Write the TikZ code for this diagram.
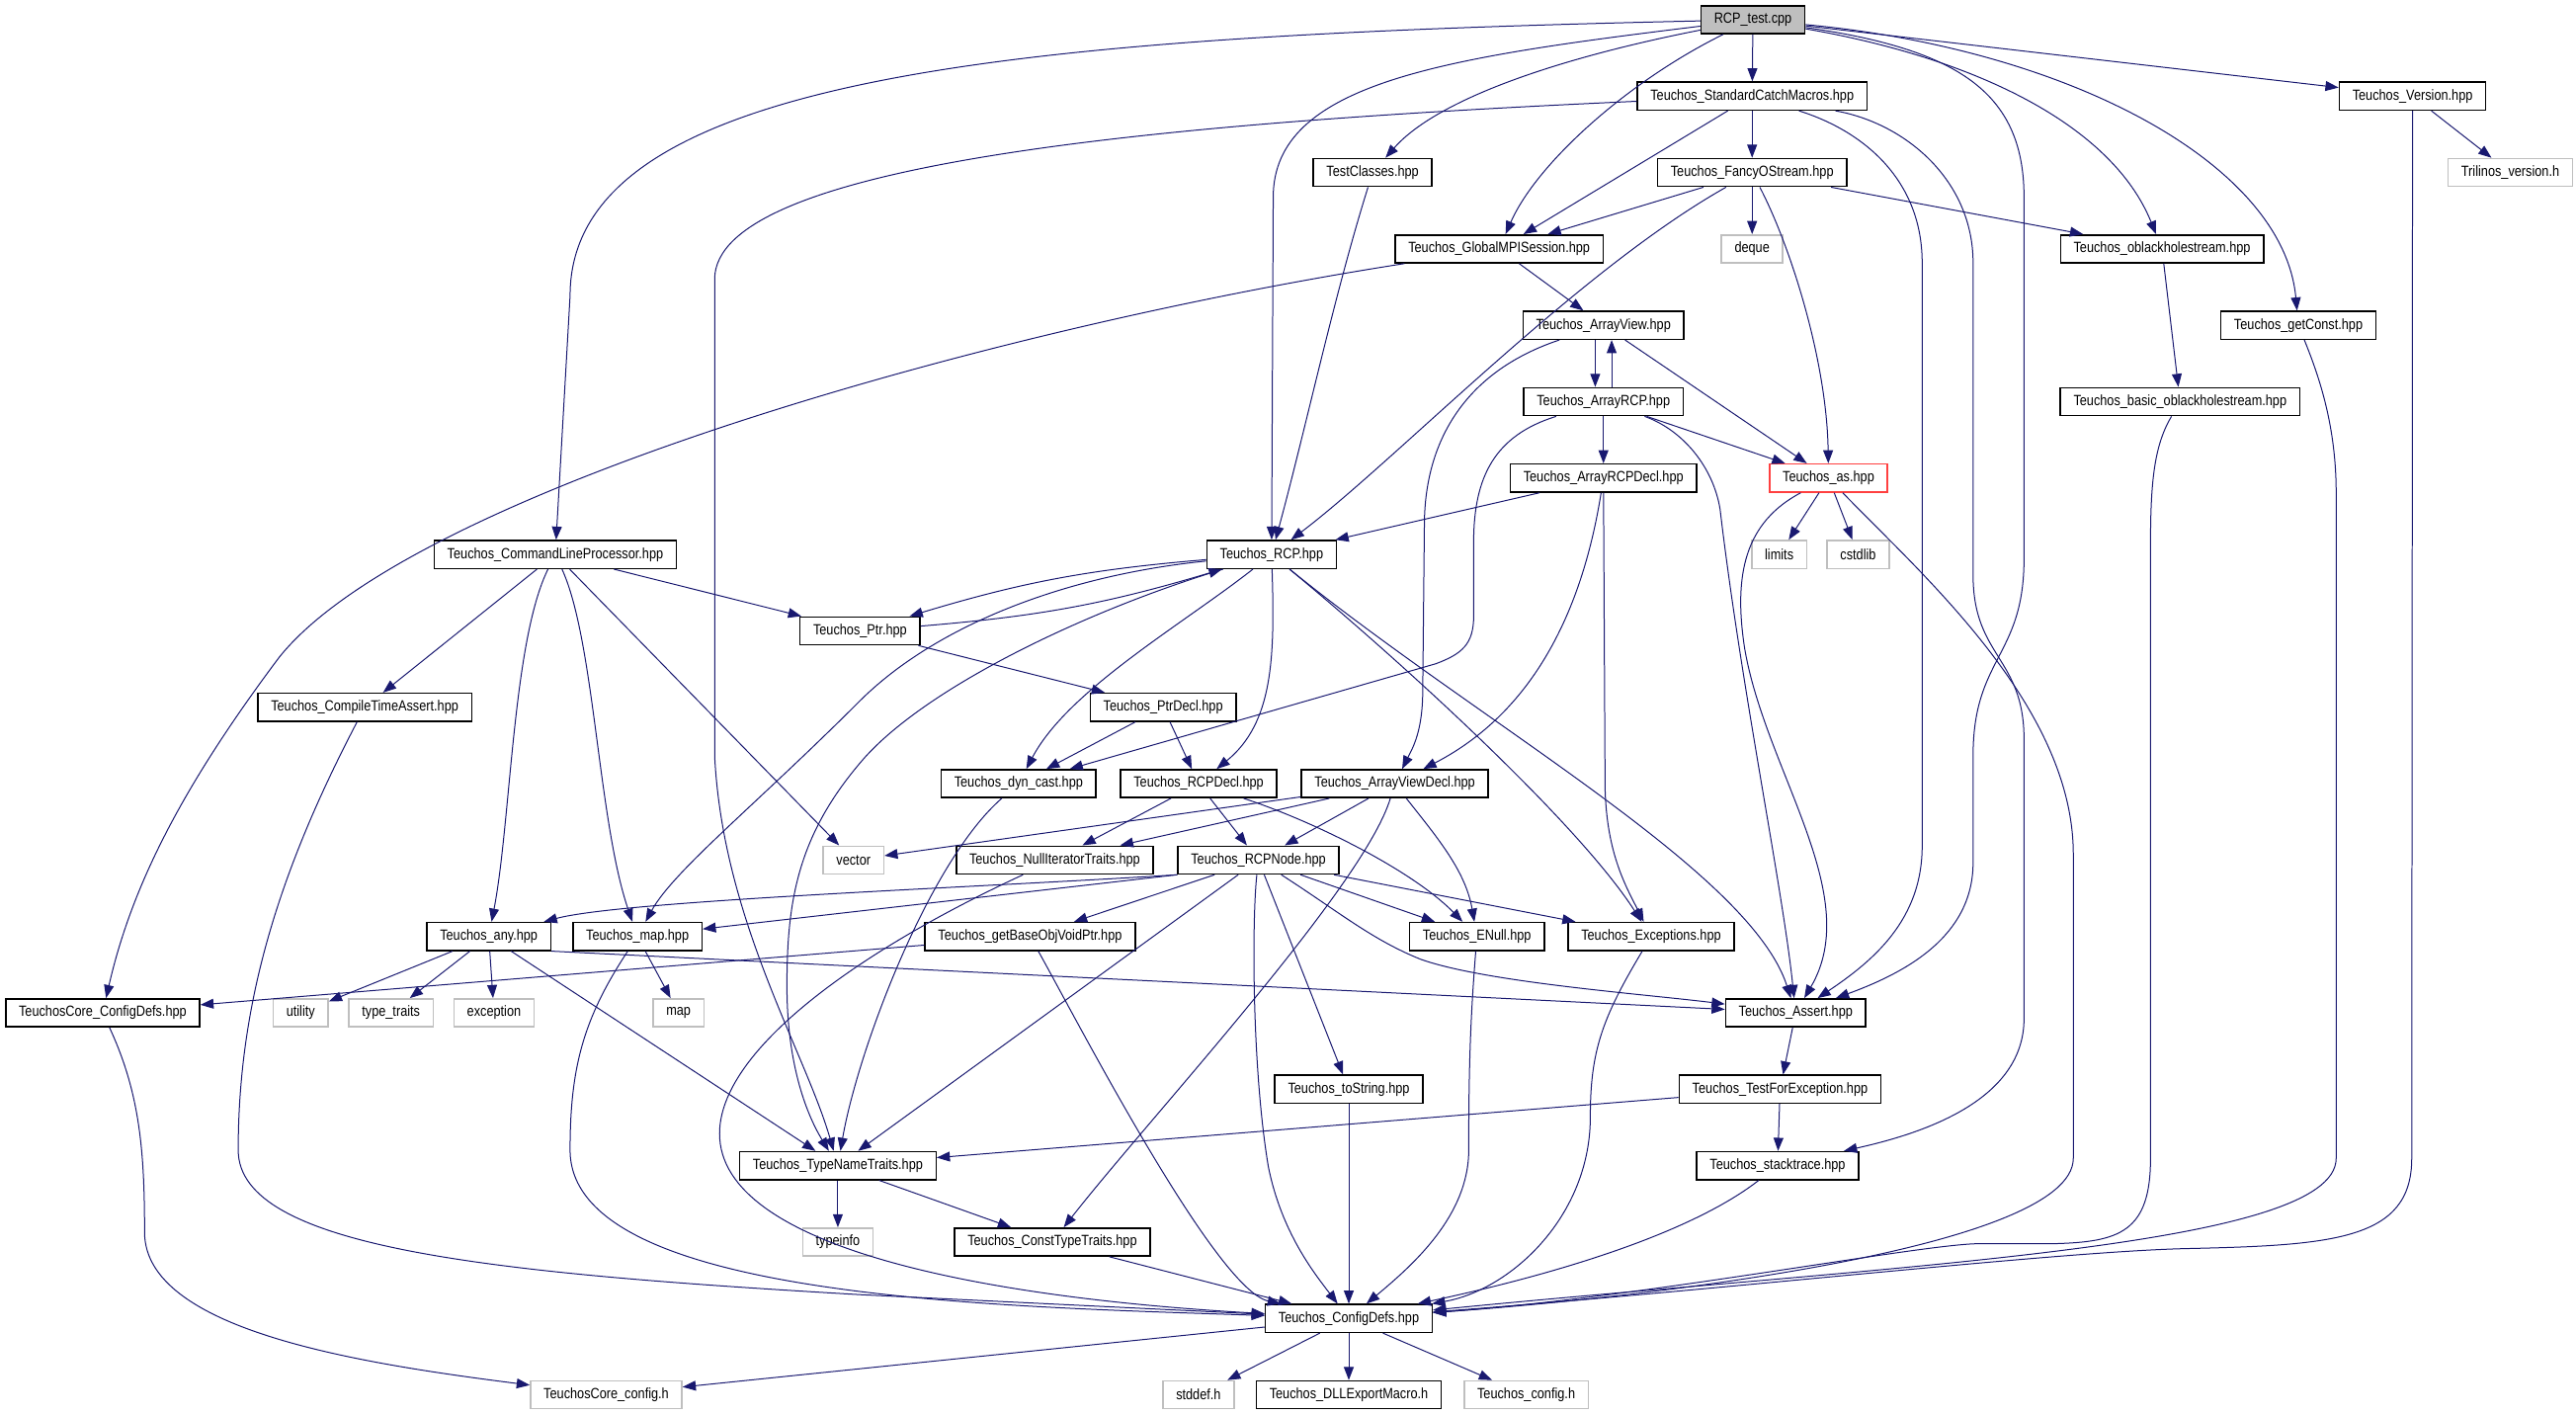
\documentclass[tikz,border=0pt]{standalone}
\usepackage{fontspec}
\newfontfamily\dotfont{Liberation Sans}[FakeStretch=0.85]
\usetikzlibrary{arrows.meta}
\definecolor{edgeblue}{RGB}{25,25,112}
\definecolor{sysgray}{RGB}{191,191,191}
\definecolor{warnred}{RGB}{255,64,64}
\tikzset{
  hdr/.style={draw=black,line width=0.9pt,fill=white,font=\dotfont\fontsize{9}{10}\selectfont,minimum height=17pt,inner xsep=8pt,inner ysep=0pt},
  sys/.style={hdr,draw=sysgray},
  root/.style={hdr,fill=sysgray},
  warn/.style={hdr,draw=warnred},
  edge/.style={draw=edgeblue,line width=0.6pt,-{Triangle[length=8pt,width=6pt]}}
}
\begin{document}
\begin{tikzpicture}[x=1pt,y=-1pt]
\useasboundingbox (0,0) rectangle (1568,861);
\node[root] (rcptest) at (1067,12) {RCP\_test.cpp};
\node[hdr] (stdcatch) at (1066.5,58.5) {Teuchos\_StandardCatchMacros.hpp};
\node[hdr] (version) at (1468.5,58.5) {Teuchos\_Version.hpp};
\node[hdr] (testcls) at (835.5,105) {TestClasses.hpp};
\node[hdr] (fancy) at (1066.5,105) {Teuchos\_FancyOStream.hpp};
\node[sys] (trilver) at (1528,105) {Trilinos\_version.h};
\node[hdr] (gmpi) at (912.5,151.5) {Teuchos\_GlobalMPISession.hpp};
\node[sys] (deque) at (1066.5,151.5) {deque};
\node[hdr] (oblack) at (1316,151.5) {Teuchos\_oblackholestream.hpp};
\node[hdr] (aview) at (976,198) {Teuchos\_ArrayView.hpp};
\node[hdr] (getconst) at (1399,198) {Teuchos\_getConst.hpp};
\node[hdr] (arcp) at (976,244.5) {Teuchos\_ArrayRCP.hpp};
\node[hdr] (boblack) at (1327,244.5) {Teuchos\_basic\_oblackholestream.hpp};
\node[hdr] (arcpdecl) at (976,291) {Teuchos\_ArrayRCPDecl.hpp};
\node[warn] (tas) at (1113,291) {Teuchos\_as.hpp};
\node[hdr] (clp) at (338,337.5) {Teuchos\_CommandLineProcessor.hpp};
\node[hdr] (rcp) at (774,337.5) {Teuchos\_RCP.hpp};
\node[sys] (limits) at (1083,337.5) {limits};
\node[sys] (cstdlib) at (1131,337.5) {cstdlib};
\node[hdr] (ptr) at (523.5,384) {Teuchos\_Ptr.hpp};
\node[hdr] (cta) at (222,430.5) {Teuchos\_CompileTimeAssert.hpp};
\node[hdr] (ptrdecl) at (708,430.5) {Teuchos\_PtrDecl.hpp};
\node[hdr] (dyncast) at (620,477) {Teuchos\_dyn\_cast.hpp};
\node[hdr] (rcpdecl) at (729.6,477) {Teuchos\_RCPDecl.hpp};
\node[hdr] (avdecl) at (849,477) {Teuchos\_ArrayViewDecl.hpp};
\node[sys] (vector) at (519.5,523.5) {vector};
\node[hdr] (nullit) at (642,523.5) {Teuchos\_NullIteratorTraits.hpp};
\node[hdr] (rcpnode) at (766,523.5) {Teuchos\_RCPNode.hpp};
\node[hdr] (any) at (297.5,570) {Teuchos\_any.hpp};
\node[hdr] (tmap) at (388,570) {Teuchos\_map.hpp};
\node[hdr] (gbovp) at (627,570) {Teuchos\_getBaseObjVoidPtr.hpp};
\node[hdr] (enull) at (899,570) {Teuchos\_ENull.hpp};
\node[hdr] (excp) at (1005,570) {Teuchos\_Exceptions.hpp};
\node[hdr] (coredefs) at (62.5,616.5) {TeuchosCore\_ConfigDefs.hpp};
\node[sys] (utility) at (183,616.5) {utility};
\node[sys] (typetraits) at (238,616.5) {type\_traits};
\node[sys] (exception) at (300.7,616.5) {exception};
\node[sys] (smap) at (413,616.5) {map};
\node[hdr] (assert) at (1093,616.5) {Teuchos\_Assert.hpp};
\node[hdr] (tostring) at (821,663) {Teuchos\_toString.hpp};
\node[hdr] (tfe) at (1083.5,663) {Teuchos\_TestForException.hpp};
\node[hdr] (tnt) at (510,709.5) {Teuchos\_TypeNameTraits.hpp};
\node[hdr] (stacktrace) at (1082,709.5) {Teuchos\_stacktrace.hpp};
\node[sys] (typeinfo) at (510,756) {typeinfo};
\node[hdr] (ctt) at (640.5,756) {Teuchos\_ConstTypeTraits.hpp};
\node[hdr] (cfgdefs) at (821,802.5) {Teuchos\_ConfigDefs.hpp};
\node[sys] (coreconfig) at (369,849) {TeuchosCore\_config.h};
\node[sys] (stddef) at (729.5,849) {stddef.h};
\node[hdr] (dllexp) at (821,849) {Teuchos\_DLLExportMacro.h};
\node[sys] (cfgh) at (929,849) {Teuchos\_config.h};

\draw[edge] (rcptest) .. controls (620,22) and (347,45) .. (347,180) -- (clp);
\draw[edge] (rcptest) .. controls (880,35) and (775,50) .. (775,120) -- (rcp);
\draw[edge] (rcptest) .. controls (950,35) and (875,60) .. (testcls);
\draw[edge] (rcptest) .. controls (990,50) and (935,100) .. (gmpi);
\draw[edge] (rcptest) -- (stdcatch);
\draw[edge] (rcptest) .. controls (1190,30) and (1232,55) .. (1232,120) -- (1232,340) .. controls (1232,400) and (1201,400) .. (1201,460) -- (1201,525) .. controls (1201,570) and (1160,592) .. (assert);
\draw[edge] (rcptest) .. controls (1200,35) and (1285,75) .. (oblack);
\draw[edge] (rcptest) .. controls (1260,30) and (1390,100) .. (getconst);
\draw[edge] (rcptest) -- (version);

\draw[edge] (stdcatch) .. controls (700,75) and (435,100) .. (435,170) -- (435,460) .. controls (440,560) and (490,640) .. (tnt);
\draw[edge] (stdcatch) -- (gmpi);
\draw[edge] (stdcatch) -- (fancy);
\draw[edge] (stdcatch) .. controls (1135,80) and (1170,110) .. (1170,160) -- (1170,515) .. controls (1170,560) and (1140,585) .. (assert);
\draw[edge] (stdcatch) .. controls (1160,75) and (1201,110) .. (1201,160) -- (1201,350) .. controls (1201,400) and (1232,400) .. (1232,450) -- (1232,620) .. controls (1232,670) and (1170,690) .. (stacktrace);

\draw[edge] (fancy) -- (gmpi);
\draw[edge] (fancy) .. controls (960,165) and (850,280) .. (rcp);
\draw[edge] (fancy) -- (deque);
\draw[edge] (fancy) .. controls (1090,150) and (1112,220) .. (tas);
\draw[edge] (fancy) -- (oblack);

\draw[edge] (testcls) .. controls (812,180) and (795,260) .. (rcp);

\draw[edge] (gmpi) .. controls (600,200) and (250,300) .. (170,400) .. controls (110,480) and (80,540) .. (coredefs);
\draw[edge] (gmpi) -- (aview);

\draw[edge] ([xshift=-5pt]aview.south) -- ([xshift=-5pt]arcp.north);
\draw[edge] ([xshift=5pt]arcp.north) -- ([xshift=5pt]aview.south);
\draw[edge] (aview) .. controls (895,225) and (867,265) .. (867,320) -- (866,420) .. controls (866,445) and (860,455) .. (avdecl);
\draw[edge] (aview) -- (tas);

\draw[edge] (arcp) -- (arcpdecl);
\draw[edge] (arcp) .. controls (910,265) and (897,290) .. (897,330) -- (897,375) .. controls (897,392) and (890,398) .. (874,404) -- (dyncast);
\draw[edge] (arcp) -- (tas);
\draw[edge] (arcp) .. controls (1025,262) and (1043,285) .. (1047,310) .. controls (1060,420) and (1085,540) .. (assert);

\draw[edge] (oblack) -- (boblack);
\draw[edge] (boblack) .. controls (1312,270) and (1309,290) .. (1309,330) -- (1309,705) .. controls (1309,750) and (1290,756) .. (1250,757) -- (1205,757) .. controls (1170,757) and (1000,790) .. (cfgdefs);
\draw[edge] (getconst) .. controls (1412,230) and (1422,260) .. (1422,300) -- (1422,705) .. controls (1422,760) and (1150,770) .. (cfgdefs);
\draw[edge] (version) -- (trilver);
\draw[edge] (version) -- (1468,705) .. controls (1468,755) and (1420,758) .. (1330,760) .. controls (1250,762) and (1050,785) .. (cfgdefs);

\draw[edge] (tas) -- (limits);
\draw[edge] (tas) -- (cstdlib);
\draw[edge] (tas) .. controls (1062,318) and (1055,350) .. (1062,395) .. controls (1075,470) and (1135,545) .. (assert);
\draw[edge] (tas) .. controls (1170,350) and (1262,430) .. (1262,520) -- (1262,705) .. controls (1262,760) and (1000,790) .. (cfgdefs);

\draw[edge] (arcpdecl) -- (rcp);
\draw[edge] (arcpdecl) .. controls (965,360) and (940,430) .. (avdecl);
\draw[edge] (arcpdecl) -- (977,480) .. controls (978,520) and (990,540) .. (excp);

\draw[edge] (clp) -- (ptr);
\draw[edge] (clp) -- (cta);
\draw[edge] (clp) .. controls (312,390) and (311,500) .. (any);
\draw[edge] (clp) .. controls (362,390) and (364,500) .. (tmap);
\draw[edge] (clp) -- (vector);

\draw[edge] (rcp) to[bend right=6] (ptr);
\draw[edge] (ptr) to[bend right=6] (rcp);
\draw[edge] (rcp) .. controls (650,350) and (570,380) .. (523,427) .. controls (460,490) and (410,530) .. (tmap);
\draw[edge] (rcp) .. controls (660,372) and (560,420) .. (523,465) .. controls (485,510) and (479,550) .. (479,600) .. controls (479,650) and (492,680) .. (tnt);
\draw[edge] (rcp) .. controls (720,380) and (650,420) .. (dyncast);
\draw[edge] (rcp) .. controls (776,400) and (775,440) .. (rcpdecl);
\draw[edge] (rcp) .. controls (850,400) and (960,500) .. (excp);
\draw[edge] (rcp) .. controls (900,440) and (1065,530) .. (assert);

\draw[edge] (ptr) -- (ptrdecl);
\draw[edge] (cta) .. controls (170,530) and (145,610) .. (145,700) .. controls (145,760) and (300,775) .. (523,788) -- (cfgdefs);
\draw[edge] (ptrdecl) -- (dyncast);
\draw[edge] (ptrdecl) -- (rcpdecl);
\draw[edge] (dyncast) .. controls (565,525) and (522,640) .. (tnt);

\draw[edge] (rcpdecl) -- (rcpnode);
\draw[edge] (rcpdecl) -- (nullit);
\draw[edge] (rcpdecl) .. controls (800,500) and (860,530) .. (enull);

\draw[edge] (avdecl) -- (vector);
\draw[edge] (avdecl) -- (nullit);
\draw[edge] (avdecl) -- (rcpnode);
\draw[edge] (avdecl) .. controls (875,510) and (892,530) .. (enull);
\draw[edge] (avdecl) .. controls (830,540) and (700,680) .. (ctt);

\draw[edge] (nullit) .. controls (520,580) and (438,640) .. (438,690) .. controls (438,760) and (600,790) .. (cfgdefs);

\draw[edge] (rcpnode.south west) .. controls (600,540) and (380,548) .. (any);
\draw[edge] (rcpnode.south west) -- (tmap);
\draw[edge] (rcpnode) -- (gbovp);
\draw[edge] (rcpnode) -- (enull);
\draw[edge] (rcpnode) -- (excp);
\draw[edge] (rcpnode) .. controls (815,555) and (835,572) .. (865,584) .. controls (905,598) and (1000,605) .. (assert);
\draw[edge] (rcpnode) -- (tnt);
\draw[edge] (rcpnode) -- (tostring);
\draw[edge] (rcpnode) .. controls (762,560) and (762,650) .. (772,710) .. controls (780,750) and (800,775) .. (cfgdefs);

\draw[edge] (any) -- (utility);
\draw[edge] (any) -- (typetraits);
\draw[edge] (any) -- (exception);
\draw[edge] (any) -- (tnt);
\draw[edge] (any.south east) -- (assert);

\draw[edge] (tmap) -- (smap);
\draw[edge] (tmap) .. controls (355,620) and (347,650) .. (347,700) .. controls (347,790) and (600,795) .. (cfgdefs);

\draw[edge] (gbovp) -- (coredefs);
\draw[edge] (gbovp) .. controls (655,620) and (740,785) .. (cfgdefs);

\draw[edge] (enull) .. controls (895,620) and (894,650) .. (894,700) .. controls (894,740) and (860,770) .. (cfgdefs);
\draw[edge] (excp) .. controls (975,620) and (968,640) .. (968,680) .. controls (968,740) and (920,785) .. (cfgdefs);
\draw[edge] (tostring) -- (cfgdefs);
\draw[edge] (ctt) -- (cfgdefs);

\draw[edge] (coredefs) .. controls (85,665) and (88,700) .. (88,750) .. controls (88,810) and (220,830) .. (coreconfig);
\draw[edge] (cfgdefs) -- (coreconfig);
\draw[edge] (cfgdefs) -- (stddef);
\draw[edge] (cfgdefs) -- (dllexp);
\draw[edge] (cfgdefs) -- (cfgh);

\draw[edge] (assert) -- (tfe);
\draw[edge] (tfe) -- (tnt);
\draw[edge] (tfe) -- (stacktrace);
\draw[edge] (stacktrace) .. controls (1030,750) and (950,775) .. (cfgdefs);
\draw[edge] (tnt) -- (typeinfo);
\draw[edge] (tnt) -- (ctt);
\end{tikzpicture}
\end{document}
